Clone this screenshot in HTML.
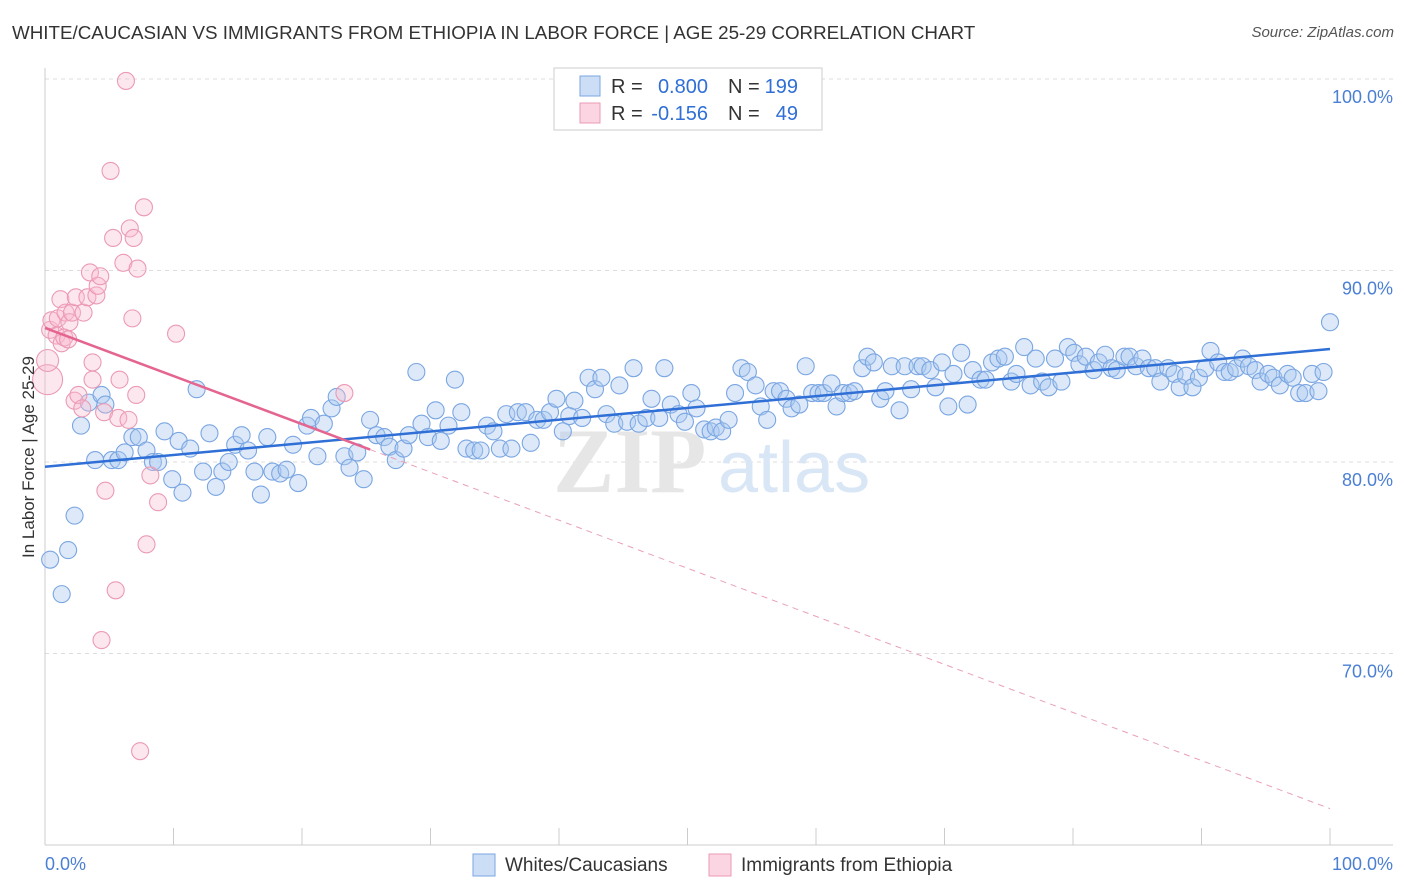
<!DOCTYPE html>
<html><head><meta charset="utf-8">
<style>
body{margin:0;background:#fff;font-family:"Liberation Sans",sans-serif;}
#wrap{position:relative;width:1406px;height:892px;overflow:hidden;}
.t{position:absolute;white-space:nowrap;}
</style></head>
<body><div id="wrap">
<div class="t" style="left:12px;top:22px;font-size:18.8px;color:#333;">WHITE/CAUCASIAN VS IMMIGRANTS FROM ETHIOPIA IN LABOR FORCE | AGE 25-29 CORRELATION CHART</div>
<div class="t" style="right:12px;top:24px;font-size:15px;color:#555;font-style:italic;">Source: ZipAtlas.com</div>
<svg id="svg" width="1406" height="892" style="position:absolute;left:0;top:0"></svg>
</div>
<script>
const blueX=[0.4,1.3,1.8,2.3,2.8,3.4,3.9,4.4,4.7,5.2,5.7,6.2,6.8,7.3,7.9,8.4,8.8,9.3,9.9,10.4,10.7,11.3,11.8,12.3,12.8,13.3,13.8,14.3,14.8,15.3,15.8,16.3,16.8,17.3,17.7,18.3,18.8,19.3,19.7,20.4,20.7,21.2,21.7,22.3,22.7,23.3,23.7,24.3,24.8,25.3,25.8,26.4,26.8,27.3,27.9,28.3,28.9,29.3,29.8,30.4,30.8,31.4,31.9,32.4,32.8,33.4,33.9,34.4,34.9,35.4,35.9,36.3,36.8,37.4,37.8,38.3,38.8,39.3,39.8,40.3,40.8,41.2,41.8,42.3,42.8,43.3,43.7,44.3,44.7,45.3,45.8,46.2,46.8,47.2,47.8,48.2,48.7,49.3,49.8,50.3,50.7,51.3,51.8,52.2,52.7,53.2,53.7,54.2,54.7,55.3,55.7,56.2,56.7,57.2,57.7,58.1,58.7,59.2,59.7,60.2,60.6,61.2,61.6,62.1,62.6,63.0,63.6,64.0,64.5,65.0,65.4,65.9,66.5,66.9,67.4,67.9,68.3,68.9,69.3,69.8,70.3,70.7,71.3,71.8,72.2,72.8,73.2,73.7,74.2,74.7,75.2,75.6,76.2,76.7,77.1,77.6,78.1,78.6,79.1,79.6,80.1,80.5,81.0,81.6,82.0,82.5,83.0,83.4,84.0,84.4,84.9,85.4,85.9,86.4,86.8,87.4,87.9,88.3,88.8,89.3,89.8,90.3,90.7,91.3,91.8,92.2,92.7,93.2,93.7,94.2,94.6,95.2,95.6,96.1,96.7,97.1,97.6,98.1,98.6,99.1,99.5,100];
const blueY=[74.9,73.1,75.4,77.2,81.9,83.1,80.1,83.5,83.0,80.1,80.1,80.5,81.3,81.3,80.6,80.0,80.0,81.6,79.1,81.1,78.4,80.7,83.8,79.5,81.5,78.7,79.5,80.0,80.9,81.4,80.6,79.5,78.3,81.3,79.5,79.4,79.6,80.9,78.9,81.9,82.3,80.3,82.0,82.8,83.4,80.3,79.7,80.5,79.1,82.2,81.4,81.3,80.8,80.1,80.7,81.4,84.7,82.0,81.3,82.7,81.1,81.9,84.3,82.6,80.7,80.6,80.6,81.9,81.6,80.7,82.5,80.7,82.6,82.6,81.0,82.2,82.2,82.6,83.3,81.6,82.4,83.2,82.3,84.4,83.8,84.4,82.5,82.0,84.0,82.1,84.9,82.0,82.3,83.3,82.3,84.9,83.0,82.5,82.1,83.6,82.8,81.7,81.6,81.8,81.6,82.2,83.6,84.9,84.7,84.0,82.9,82.2,83.7,83.7,83.3,82.8,83.0,85.0,83.6,83.6,83.6,84.1,82.9,83.6,83.6,83.7,84.9,85.5,85.2,83.3,83.7,85.0,82.7,85.0,83.8,85.0,85.0,84.8,83.9,85.2,82.9,84.6,85.7,83.0,84.8,84.3,84.3,85.2,85.4,85.5,84.2,84.6,86.0,84.0,85.4,84.2,83.9,85.4,84.2,86.0,85.7,85.1,85.5,84.8,85.2,85.6,84.9,84.8,85.5,85.5,85.0,85.4,84.9,84.9,84.2,84.9,84.6,83.9,84.5,83.9,84.4,84.9,85.8,85.2,84.7,84.7,84.9,85.4,85.0,84.8,84.2,84.6,84.4,84.0,84.6,84.4,83.6,83.6,84.6,83.7,84.7,87.3];
const pinkX=[0.2,0.2,0.4,0.5,0.9,1.0,1.2,1.3,1.5,1.6,1.8,1.9,2.1,2.3,2.4,2.6,2.9,3.0,3.3,3.5,3.7,3.7,4.0,4.1,4.3,4.6,4.7,5.1,5.3,5.5,5.7,5.8,6.1,6.3,6.5,6.6,6.8,6.9,7.1,7.2,7.4,7.7,7.9,8.2,8.8,10.2,23.3,4.4];
const pinkY=[84.3,85.3,86.9,87.4,86.6,87.5,88.5,86.2,86.5,87.8,86.4,87.3,87.8,83.2,88.6,83.5,82.8,87.8,88.6,89.9,85.2,84.3,88.7,89.2,89.7,82.6,78.5,95.2,91.7,73.3,82.3,84.3,90.4,99.9,82.2,92.2,87.5,91.7,83.5,90.1,64.9,93.3,75.7,79.3,77.9,86.7,83.6,70.7];
const pinkR=[15,11,8.5,8.5,8.5,8.5,8.5,8.5,8.5,8.5,8.5,8.5,8.5,8.5,8.5,8.5,8.5,8.5,8.5,8.5,8.5,8.5,8.5,8.5,8.5,8.5,8.5,8.5,8.5,8.5,8.5,8.5,8.5,8.5,8.5,8.5,8.5,8.5,8.5,8.5,8.5,8.5,8.5,8.5,8.5,8.5,8.5,8.5];
const blueTrend=[79.75,85.9];
const pinkTrend=[87.0,61.9];
const pinkSolidEnd=25.3;
const yTicks=[100,90,80,70];

const X=v=>45+12.85*v, Y=v=>79+19.15*(100-v);
const svg=document.getElementById('svg');const NS='http://www.w3.org/2000/svg';
function mk(t,a,p){const e=document.createElementNS(NS,t);for(const k in a)e.setAttribute(k,a[k]);(p||svg).appendChild(e);return e;}
yTicks.forEach(v=>{
const g=mk('line',{x1:45,x2:1393,y1:Y(v),y2:Y(v),stroke:'#ddd','stroke-dasharray':'4,4'});


const t=mk('text',{x:1393,y:Y(v)+24,'text-anchor':'end','font-size':18,fill:'#4a7fd4','font-family':'Liberation Sans, sans-serif'});
t.textContent=v.toFixed(1)+'%';


});
const ax=mk('line',{x1:45,x2:1393,y1:845,y2:845,stroke:'#ccc'});


const ay=mk('line',{x1:45,x2:45,y1:68,y2:845,stroke:'#ccc'});


for(let i=0;i<=10;i++){const tk=mk('line',{x1:X(i*10),x2:X(i*10),y1:828,y2:845,stroke:'#ccc'});

}
const wm=mk('text',{x:553,y:492,'font-size':92,fill:'#e6e6e6','font-family':'Liberation Serif, serif','font-weight':'bold'});wm.textContent='ZIP';


const wm2=mk('text',{x:718,y:492,'font-size':72,fill:'#d9e6f6','font-family':'Liberation Sans, sans-serif'});wm2.textContent='atlas';


blueX.forEach((x,i)=>{const c=mk('circle',{cx:X(x),cy:Y(blueY[i]),r:8.5,fill:'rgba(170,200,240,0.4)',stroke:'#7aa6e2','stroke-width':1.1});

});
pinkX.forEach((x,i)=>{const c=mk('circle',{cx:X(x),cy:Y(pinkY[i]),r:pinkR[i],fill:'rgba(248,185,205,0.35)',stroke:'#eb9ab4','stroke-width':1.1});

});
const bt=mk('line',{x1:X(0),y1:Y(blueTrend[0]),x2:X(100),y2:Y(blueTrend[1]),stroke:'#2f6fd6','stroke-width':2.5});


const pAt=x=>pinkTrend[0]+(pinkTrend[1]-pinkTrend[0])*x/100;
const pt=mk('line',{x1:X(0),y1:Y(pinkTrend[0]),x2:X(pinkSolidEnd),y2:Y(pAt(pinkSolidEnd)),stroke:'#e46590','stroke-width':2.5});


const pd=mk('line',{x1:X(pinkSolidEnd),y1:Y(pAt(pinkSolidEnd)),x2:X(100),y2:Y(pinkTrend[1]),stroke:'#eaa0b8','stroke-width':1,'stroke-dasharray':'6,5'});


const xl0=mk('text',{x:45,y:870,'font-size':18,fill:'#4a7fd4','font-family':'Liberation Sans, sans-serif'});xl0.textContent='0.0%';


const xl1=mk('text',{x:1393,y:870,'text-anchor':'end','font-size':18,fill:'#4a7fd4','font-family':'Liberation Sans, sans-serif'});xl1.textContent='100.0%';


const yt=mk('text',{x:0,y:0,'font-size':17,fill:'#333','font-family':'Liberation Sans, sans-serif','text-anchor':'middle',transform:'translate(34,457) rotate(-90)'});yt.textContent='In Labor Force | Age 25-29';


const lb=mk('rect',{x:554,y:68,width:268,height:62,fill:'#fff',stroke:'#ccc'});


[[0,'rgba(170,200,240,0.6)','#7aa6e2','0.800','199'],[1,'rgba(248,185,205,0.6)','#eb9ab4','-0.156','49']].forEach(r=>{
const y=86+r[0]*27;
const s=mk('rect',{x:580,y:y-10,width:20,height:20,fill:r[1],stroke:r[2]});


const parts=[[611,'R =','#333','start'],[708,r[3],'#2f6fd6','end'],[728,'N =','#333','start'],[798,r[4],'#2f6fd6','end']];
parts.forEach(p=>{
const t=mk('text',{x:p[0],y:y+7,'font-size':20,fill:p[2],'text-anchor':p[3],'font-family':'Liberation Sans, sans-serif'});
t.textContent=p[1];


});
});
[[473,'rgba(170,200,240,0.6)','#7aa6e2','Whites/Caucasians'],[709,'rgba(248,185,205,0.6)','#eb9ab4','Immigrants from Ethiopia']].forEach(r=>{
const s=mk('rect',{x:r[0],y:854,width:22,height:22,fill:r[1],stroke:r[2]});


const t=mk('text',{x:r[0]+32,y:871,'font-size':19,fill:'#333','font-family':'Liberation Sans, sans-serif'});t.textContent=r[3];


});
</script></body></html>
